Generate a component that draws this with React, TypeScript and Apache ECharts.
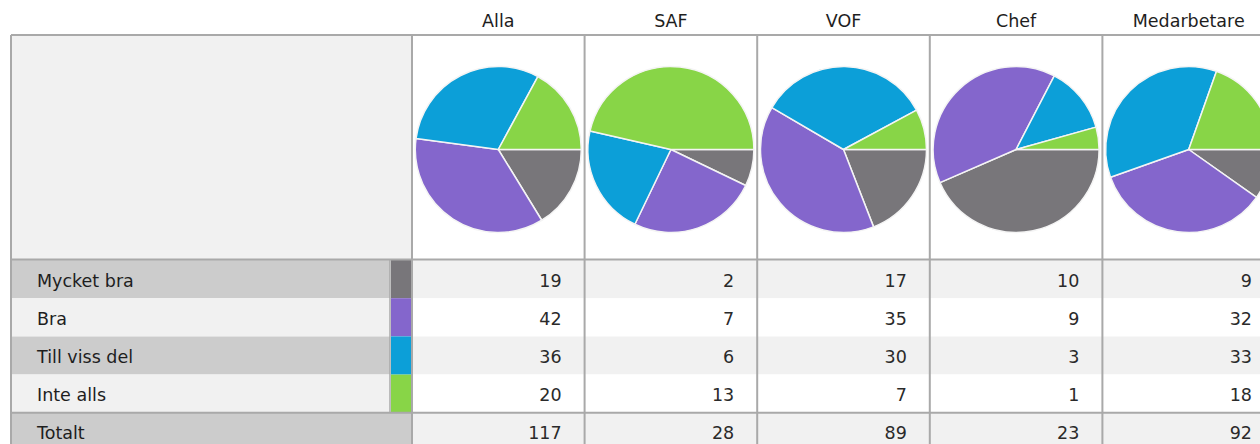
import React, { useEffect, useRef } from "react";
import * as echarts from "echarts";

const groups = ["Alla", "SAF", "VOF", "Chef", "Medarbetare"];
const answers = ["Mycket bra", "Bra", "Till viss del", "Inte alls"];
const answerColors = ["#78767a", "#8466cc", "#0c9fd8", "#88d547"];
const mycketBra = [19, 2, 17, 10, 9];
const bra = [42, 7, 35, 9, 32];
const tillVissDel = [36, 6, 30, 3, 33];
const inteAlls = [20, 13, 7, 1, 18];
const totalLabel = "Totalt";

const rowsData = [mycketBra, bra, tillVissDel, inteAlls];

const FONT = '"DejaVu Sans", "Noto Sans", sans-serif';

export default function App() {
  const ref = useRef<HTMLDivElement>(null);
  useEffect(() => {
    if (!ref.current) return;
    const chart = echarts.init(ref.current, null, { renderer: "svg" });

    const tableLeft = 11;
    const tableTop = 35;
    const labelRight = 390;
    const swatchRight = 412;
    const colW = 172.6;
    const colLeft = (i: number) => swatchRight + i * colW;
    const pieBottom = 260;
    const rowH = 38.2;
    const rowTop = (r: number) => pieBottom + r * rowH;
    const totalTop = rowTop(4);
    const tableBottom = 460;
    const tableRight = colLeft(groups.length);
    const lineColor = "#a9a9a9";
    const textFont = `17.5px ${FONT}`;
    const dy = 1.5;

    const graphics: any[] = [];
    graphics.push({ type: "rect", z: 0, shape: { x: tableLeft, y: tableTop, width: swatchRight - tableLeft, height: pieBottom - tableTop }, style: { fill: "#f1f1f1" } });
    graphics.push({ type: "rect", z: 0, shape: { x: swatchRight, y: tableTop, width: tableRight - swatchRight, height: pieBottom - tableTop }, style: { fill: "#ffffff" } });

    answers.forEach((a, r) => {
      const y = rowTop(r);
      const odd = r % 2 === 0;
      graphics.push({ type: "rect", z: 0, shape: { x: tableLeft, y, width: labelRight - tableLeft, height: rowH }, style: { fill: odd ? "#cccccc" : "#f1f1f1" } });
      graphics.push({ type: "rect", z: 0, shape: { x: labelRight + 1, y, width: swatchRight - labelRight - 1, height: rowH }, style: { fill: answerColors[r] } });
      graphics.push({ type: "rect", z: 0, shape: { x: swatchRight, y, width: tableRight - swatchRight, height: rowH }, style: { fill: odd ? "#f1f1f1" : "#ffffff" } });
      graphics.push({ type: "text", z: 5, x: 37, y: y + rowH / 2 + dy, style: { text: a, fill: "#1e1e1e", font: textFont, textAlign: "left", textVerticalAlign: "middle" } });
      rowsData[r].forEach((v, c) => {
        graphics.push({ type: "text", z: 5, x: colLeft(c + 1) - 23, y: y + rowH / 2 + dy, style: { text: String(v), fill: "#2a2a2a", font: textFont, textAlign: "right", textVerticalAlign: "middle" } });
      });
    });

    graphics.push({ type: "rect", z: 0, shape: { x: tableLeft, y: totalTop, width: swatchRight - tableLeft, height: tableBottom - totalTop }, style: { fill: "#cccccc" } });
    graphics.push({ type: "rect", z: 0, shape: { x: swatchRight, y: totalTop, width: tableRight - swatchRight, height: tableBottom - totalTop }, style: { fill: "#f1f1f1" } });
    graphics.push({ type: "text", z: 5, x: 37, y: totalTop + rowH / 2 + dy, style: { text: totalLabel, fill: "#1e1e1e", font: textFont, textAlign: "left", textVerticalAlign: "middle" } });
    groups.forEach((g, c) => {
      const total = rowsData.reduce((s, row) => s + row[c], 0);
      graphics.push({ type: "text", z: 5, x: colLeft(c + 1) - 23, y: totalTop + rowH / 2 + dy, style: { text: String(total), fill: "#2a2a2a", font: textFont, textAlign: "right", textVerticalAlign: "middle" } });
      graphics.push({ type: "text", z: 5, x: colLeft(c) + colW / 2, y: 21, style: { text: g, fill: "#1e1e1e", font: textFont, textAlign: "center", textVerticalAlign: "middle" } });
    });

    const line = (x1: number, y1: number, x2: number, y2: number, w = 2) =>
      graphics.push({ type: "line", z: 10, shape: { x1, y1, x2, y2 }, style: { stroke: lineColor, lineWidth: w } });
    line(tableLeft, tableTop, tableRight, tableTop);
    line(tableLeft, tableTop, tableLeft, tableBottom);
    line(tableLeft, pieBottom - 0.5, tableRight, pieBottom - 0.5);
    line(tableLeft, totalTop, tableRight, totalTop);
    for (let c = 0; c <= groups.length; c++) line(colLeft(c), tableTop, colLeft(c), tableBottom);
    line(labelRight, pieBottom, labelRight, totalTop, 1.5);

    const series = groups.map((g, c) => ({
      type: "pie",
      name: g,
      center: [colLeft(c) + colW / 2, 149.5],
      radius: 83,
      startAngle: 0,
      clockwise: true,
      silent: true,
      label: { show: false },
      labelLine: { show: false },
      emphasis: { disabled: true },
      itemStyle: { borderColor: "#f4f4f4", borderWidth: 1.5 },
      data: answers.map((a, r) => ({ name: a, value: rowsData[r][c], itemStyle: { color: answerColors[r] } })),
    }));

    chart.setOption({
      animation: false,
      backgroundColor: "#ffffff",
      graphic: { elements: graphics },
      series,
    });
    return () => chart.dispose();
  }, []);
  return <div ref={ref} style={{ position: "fixed", left: 0, top: 0, width: 1260, height: 444 }} />;
}
